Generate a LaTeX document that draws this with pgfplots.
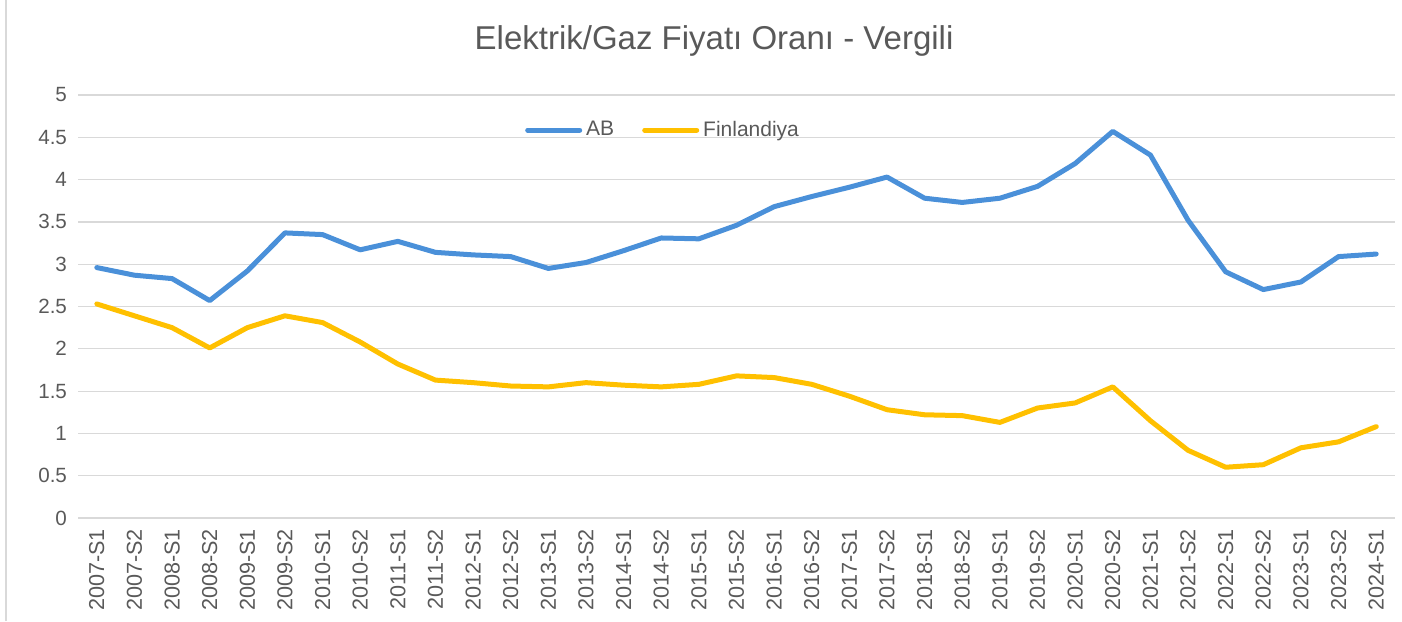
\documentclass[border=0pt]{standalone}
\usepackage{pgfplots}
\pgfplotsset{compat=1.18}
\usepackage{fontspec}
\setmainfont{Liberation Sans}
\definecolor{abblue}{HTML}{4A90D9}
\definecolor{fingold}{HTML}{FFC000}
\definecolor{txtgray}{HTML}{595959}
\definecolor{gridgray}{HTML}{D9D9D9}
\begin{document}
\begin{tikzpicture}
\path[use as bounding box] (0,0) rectangle (701pt,310.5pt);
\draw[gridgray, line width=0.8pt] (3pt,0pt) -- (3pt,310.5pt);
\node[txtgray, font=\fontsize{16.5pt}{19pt}\selectfont] at (357pt,290pt) {Elektrik/Gaz Fiyatı Oranı - Vergili};
\begin{axis}[
  scale only axis,
  width=658.5pt, height=211.5pt,
  at={(39pt,51.5pt)}, anchor=south west,
  xmin=-0.5, xmax=34.5, ymin=0, ymax=5,
  axis line style={draw=none},
  tick style={draw=none},
  ytick={0,0.5,...,5},
  ymajorgrids, grid style={gridgray, line width=0.6pt},
  xtick={0,...,34},
  xticklabels={2007-S1,2007-S2,2008-S1,2008-S2,2009-S1,2009-S2,2010-S1,2010-S2,2011-S1,2011-S2,2012-S1,2012-S2,2013-S1,2013-S2,2014-S1,2014-S2,2015-S1,2015-S2,2016-S1,2016-S2,2017-S1,2017-S2,2018-S1,2018-S2,2019-S1,2019-S2,2020-S1,2020-S2,2021-S1,2021-S2,2022-S1,2022-S2,2023-S1,2023-S2,2024-S1},
  x tick label style={rotate=90, anchor=east, font=\fontsize{10.8pt}{12pt}\selectfont, text=txtgray, xshift=-2pt},
  y tick label style={font=\fontsize{10.3pt}{12pt}\selectfont, text=txtgray, xshift=-2pt},
  /pgf/number format/assume math mode=true,
  yticklabel style={/pgf/number format/.cd, fixed, precision=1},
  legend style={at={(0.445,0.917)}, anchor=center, draw=none, fill=none,
    font=\fontsize{10.5pt}{12pt}\selectfont, text=txtgray,
    legend columns=2,
    /tikz/every even column/.append style={column sep=12pt}},
  legend image code/.code={\draw[#1, line cap=round] (0pt,0pt) -- (26pt,0pt);},
]
\addplot[abblue, line width=2.5pt, line join=round, line cap=round] coordinates {
(0,2.96)(1,2.87)(2,2.83)(3,2.57)(4,2.92)(5,3.37)(6,3.35)(7,3.17)(8,3.27)(9,3.14)
(10,3.11)(11,3.09)(12,2.95)(13,3.02)(14,3.16)(15,3.31)(16,3.30)(17,3.46)(18,3.68)(19,3.80)
(20,3.91)(21,4.03)(22,3.78)(23,3.73)(24,3.78)(25,3.92)(26,4.19)(27,4.57)(28,4.29)(29,3.52)
(30,2.91)(31,2.70)(32,2.79)(33,3.09)(34,3.12)};
\addlegendentry{AB}
\addplot[fingold, line width=2.5pt, line join=round, line cap=round] coordinates {
(0,2.53)(1,2.39)(2,2.25)(3,2.01)(4,2.25)(5,2.39)(6,2.31)(7,2.08)(8,1.82)(9,1.63)
(10,1.60)(11,1.56)(12,1.55)(13,1.60)(14,1.57)(15,1.55)(16,1.58)(17,1.68)(18,1.66)(19,1.58)
(20,1.44)(21,1.28)(22,1.22)(23,1.21)(24,1.13)(25,1.30)(26,1.36)(27,1.55)(28,1.15)(29,0.80)
(30,0.60)(31,0.63)(32,0.83)(33,0.90)(34,1.08)};
\addlegendentry{Finlandiya}
\end{axis}
\end{tikzpicture}
\end{document}
